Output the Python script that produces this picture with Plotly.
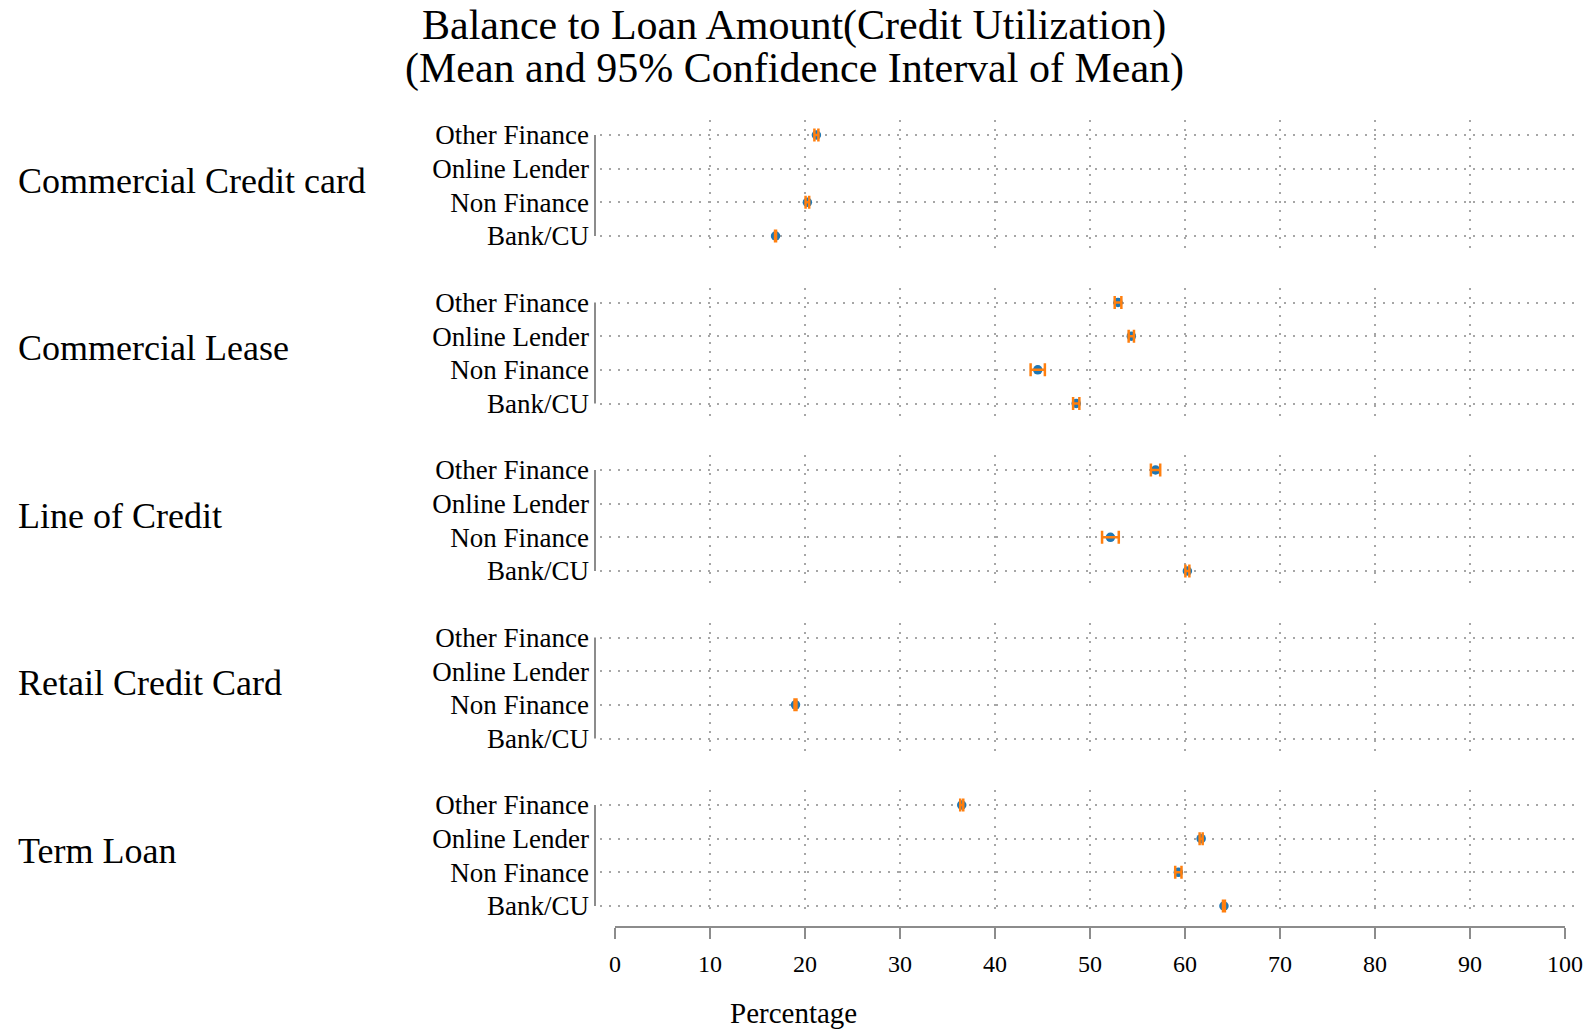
import plotly.graph_objects as go

# Loan products (one panel each, top to bottom) and lender types (rows, bottom to top)
loan_types = ["Commercial Credit card", "Commercial Lease", "Line of Credit",
              "Retail Credit Card", "Term Loan"]
lenders = ["Bank/CU", "Non Finance", "Online Lender", "Other Finance"]

# Mean balance-to-loan ratio (%) per lender, ordered as `lenders`; None = no data
mean_commercial_credit_card = [16.9, 20.25, None, 21.2]
mean_commercial_lease = [48.55, 44.5, 54.35, 52.95]
mean_line_of_credit = [60.25, 52.15, None, 56.9]
mean_retail_credit_card = [None, 19.0, None, None]
mean_term_loan = [64.1, 59.3, 61.7, 36.5]

# Half-width of the 95% confidence interval of the mean (%)
ci_commercial_credit_card = [0.05, 0.19, None, 0.21]
ci_commercial_lease = [0.33, 0.75, 0.28, 0.35]
ci_line_of_credit = [0.21, 0.88, None, 0.49]
ci_retail_credit_card = [None, 0.1, None, None]
ci_term_loan = [0.1, 0.33, 0.16, 0.16]

x_ticks = [0, 10, 20, 30, 40, 50, 60, 70, 80, 90, 100]

means = [mean_commercial_credit_card, mean_commercial_lease, mean_line_of_credit,
         mean_retail_credit_card, mean_term_loan]
cis = [ci_commercial_credit_card, ci_commercial_lease, ci_line_of_credit,
       ci_retail_credit_card, ci_term_loan]

W, H = 1589, 1032
FONT = "Liberation Serif"
GRID = "#a6a6a6"
SPINE = "#8c8c8c"

# pixel geometry of the page
px_x0, px_x100 = 615, 1565          # where 0% and 100% fall
panel_left, panel_right = 600, 1581
unit = (px_x100 - px_x0) / 100.0
x_range = [(panel_left - px_x0) / unit, (panel_right - px_x0) / unit]
row_gap = 33.67
first_row = 135
panel_gap = 167.5


def fy(px):
    return 1 - px / H


fig = go.Figure()
layout = {}
for i, (name, m, ci) in enumerate(zip(loan_types, means, cis)):
    n = "" if i == 0 else str(i + 1)
    rows = [j for j, v in enumerate(m) if v is not None]
    xs = [m[j] for j in rows]
    es = [ci[j] for j in rows]
    common = dict(xaxis="x" + n, yaxis="y" + n, showlegend=False,
                  hoverinfo="x+y")
    fig.add_trace(go.Scatter(x=xs, y=rows, mode="markers",
                             marker=dict(color="#1f77b4", size=9.5), **common))
    fig.add_trace(go.Scatter(x=xs, y=rows, mode="markers",
                             marker=dict(color="rgba(0,0,0,0)", size=1),
                             error_x=dict(type="data", array=es, color="#ff7f0e",
                                          thickness=2.5, width=6.5),
                             **common))

    top_row = first_row + panel_gap * i
    bottom_row = top_row + 3 * row_gap
    below = 19 if i < 4 else 10
    y_lo = -below / row_gap
    y_hi = 3 + 15 / row_gap
    layout["xaxis" + n] = dict(
        domain=[panel_left / W, panel_right / W], range=x_range,
        anchor="y" + n, tickvals=x_ticks[1:-1], showticklabels=False,
        showgrid=True, gridcolor=GRID, gridwidth=1.5, griddash="2px,7px",
        zeroline=False, showline=False, ticks="")
    layout["yaxis" + n] = dict(
        domain=[fy(bottom_row + below), fy(top_row - 15)], range=[y_lo, y_hi],
        anchor="x" + n, tickvals=[0, 1, 2, 3], ticktext=lenders,
        showgrid=True, gridcolor=GRID, gridwidth=1.5, griddash="2px,7px",
        zeroline=False, showline=False, ticks="", ticklabelstandoff=10,
        tickfont=dict(family=FONT, size=27, color="black"))
    # left spine spanning the lender rows
    fig.add_shape(type="line", xref="paper", yref="y" + n,
                  x0=595 / W, x1=595 / W, y0=0, y1=3,
                  line=dict(color=SPINE, width=2))
    # panel label
    fig.add_annotation(text=name, xref="paper", yref="y" + n, x=16 / W, y=1.5,
                       xanchor="left", yanchor="middle", yshift=5,
                       showarrow=False,
                       font=dict(family=FONT, size=36, color="black"))

# shared percentage axis under the panels
fig.add_trace(go.Scatter(x=[], y=[], xaxis="x6", yaxis="y6", showlegend=False))
layout["xaxis6"] = dict(
    domain=[px_x0 / W, px_x100 / W], range=[0, 100], anchor="y6",
    tickvals=x_ticks, showgrid=False, zeroline=False, showline=True,
    linecolor=SPINE, linewidth=2, ticks="outside", ticklen=11, tickwidth=2,
    tickcolor=SPINE, ticklabelstandoff=4,
    tickfont=dict(family=FONT, size=24, color="black"))
layout["yaxis6"] = dict(domain=[fy(926), fy(920)], visible=False, range=[0, 1])

fig.add_annotation(text="Percentage", xref="paper", yref="paper",
                   x=793.5 / W, y=fy(1013), xanchor="center", yanchor="middle",
                   showarrow=False, font=dict(family=FONT, size=29, color="black"))

fig.add_annotation(text="Balance to Loan Amount(Credit Utilization)",
                   xref="paper", yref="paper", x=794 / W, y=fy(25),
                   xanchor="center", yanchor="middle", showarrow=False,
                   font=dict(family=FONT, size=42, color="black"))
fig.add_annotation(text="(Mean and 95% Confidence Interval of Mean)",
                   xref="paper", yref="paper", x=794 / W, y=fy(68),
                   xanchor="center", yanchor="middle", showarrow=False,
                   font=dict(family=FONT, size=42, color="black"))

fig.update_layout(width=W, height=H, autosize=False,
                  margin=dict(l=0, r=0, t=0, b=0, pad=0, autoexpand=False),
                  paper_bgcolor="white", plot_bgcolor="white", **layout)

fig.write_html("out.html")
